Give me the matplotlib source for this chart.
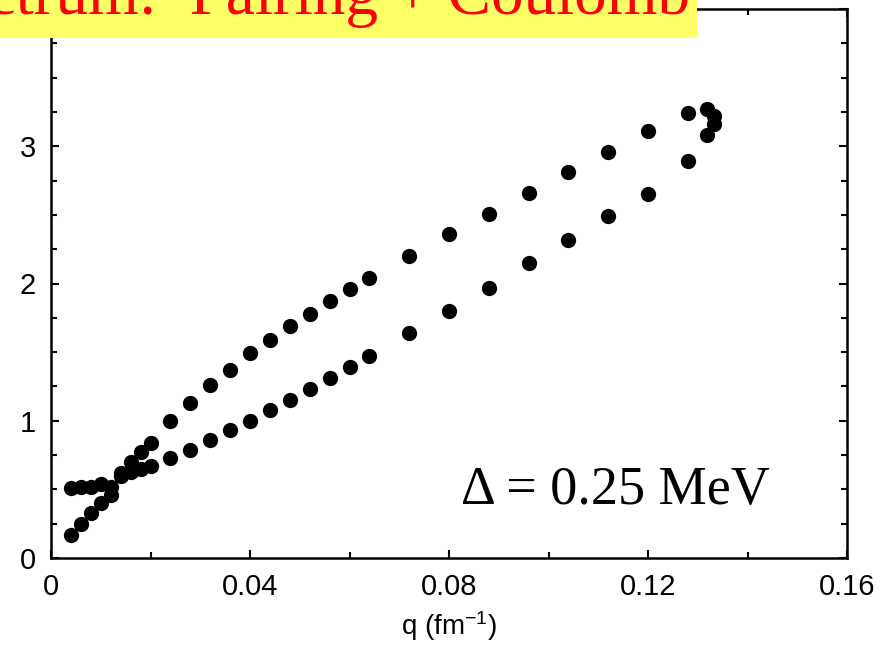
import matplotlib
matplotlib.use("Agg")
import matplotlib.pyplot as plt
from matplotlib.patches import Rectangle
from matplotlib.ticker import MultipleLocator

plt.rcParams['font.family'] = ['Liberation Sans', 'DejaVu Sans']
plt.rcParams['mathtext.fontset'] = 'custom'
plt.rcParams['mathtext.rm'] = 'Liberation Sans'
plt.rcParams['mathtext.it'] = 'Liberation Sans:italic'

# branch that starts flat near 0.5 at small q and then rises steeply
q_upper = [0.004, 0.006, 0.008, 0.010, 0.012, 0.014, 0.016, 0.018, 0.020,
           0.024, 0.028, 0.032, 0.036, 0.040, 0.044, 0.048, 0.052, 0.056,
           0.060, 0.064, 0.072, 0.080, 0.088, 0.096, 0.104, 0.112, 0.120,
           0.128, 0.1318, 0.1333]
e_upper = [0.51, 0.52, 0.52, 0.54, 0.52, 0.62, 0.70, 0.77, 0.84,
           1.00, 1.13, 1.26, 1.37, 1.49, 1.59, 1.69, 1.78, 1.87,
           1.96, 2.04, 2.20, 2.36, 2.51, 2.66, 2.81, 2.96, 3.11,
           3.24, 3.27, 3.22]

# lower branch
q_lower = [0.004, 0.006, 0.008, 0.010, 0.012, 0.014, 0.016, 0.018, 0.020,
           0.024, 0.028, 0.032, 0.036, 0.040, 0.044, 0.048, 0.052, 0.056,
           0.060, 0.064, 0.072, 0.080, 0.088, 0.096, 0.104, 0.112, 0.120,
           0.128, 0.1333, 0.1318]
e_lower = [0.17, 0.25, 0.33, 0.40, 0.46, 0.60, 0.63, 0.65, 0.67,
           0.73, 0.79, 0.86, 0.93, 1.00, 1.08, 1.15, 1.23, 1.31,
           1.39, 1.47, 1.64, 1.80, 1.97, 2.15, 2.32, 2.49, 2.65,
           2.89, 3.16, 3.08]

x_ticks = [0, 0.04, 0.08, 0.12, 0.16]
x_labels = ['0', '0.04', '0.08', '0.12', '0.16']
y_ticks = [0, 1, 2, 3, 4]
y_labels = ['0', '1', '2', '3', '4']

W, H = 886, 655
fig = plt.figure(figsize=(W / 100, H / 100), dpi=100)
ax = fig.add_axes([51 / W, (H - 558) / H, (847 - 51) / W, (558 - 9) / H])

ax.plot(q_upper, e_upper, 'o', color='black', markersize=11, markeredgewidth=0)
ax.plot(q_lower, e_lower, 'o', color='black', markersize=11, markeredgewidth=0)

ax.set_xlim(0, 0.16)
ax.set_ylim(0, 4)
ax.set_xticks(x_ticks)
ax.set_xticklabels(x_labels)
ax.set_yticks(y_ticks)
ax.set_yticklabels(y_labels)
ax.xaxis.set_minor_locator(MultipleLocator(0.02))
ax.yaxis.set_minor_locator(MultipleLocator(0.25))
ax.tick_params(which='both', direction='in', top=True, right=True,
               labelsize=21, width=1.5)
ax.tick_params(which='major', length=6, pad=11)
ax.tick_params(which='minor', length=4)
for s in ax.spines.values():
    s.set_linewidth(1.8)

ax.set_xlabel('q (fm$^{-1}$)', fontsize=20, labelpad=6)

ax.text(0.1135, 0.49, '\u0394 = 0.25 MeV', fontsize=39, family='Liberation Serif',
        ha='center', va='center')

# yellow title banner, cut by the top edge of the image
fig.add_artist(Rectangle((0, (H - 38) / H), 697 / W, 38 / H,
                         transform=fig.transFigure, facecolor='#ffff66',
                         edgecolor='none', zorder=5))
fig.text(690 / W, (H - 14) / H, 'Spectrum:  Pairing + Coulomb', color='red',
         fontsize=47, family='Liberation Serif', ha='right', va='baseline',
         zorder=6)

fig.savefig('out.png', dpi=100)
